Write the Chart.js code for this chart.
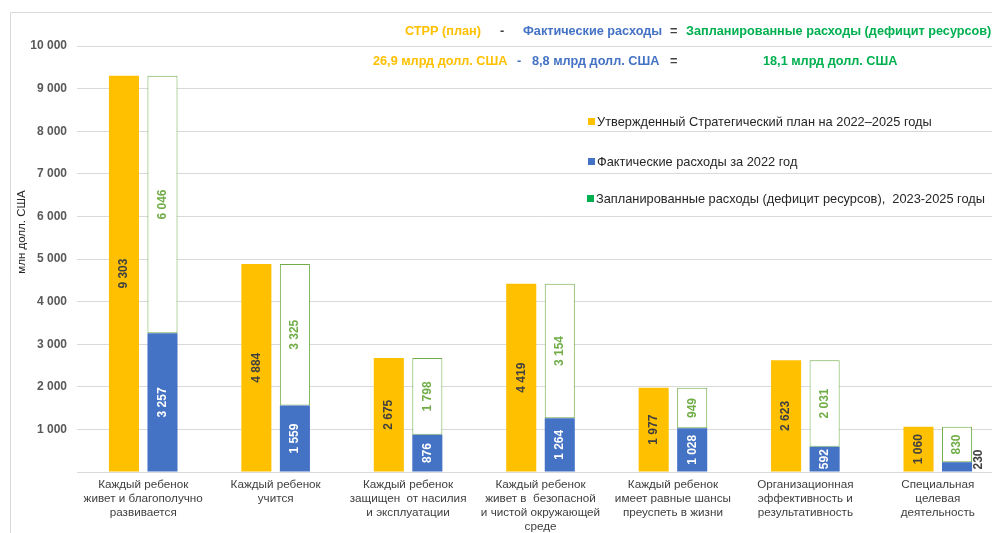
<!DOCTYPE html>
<html>
<head>
<meta charset="utf-8">
<script src="https://cdn.jsdelivr.net/npm/chart.js@4/dist/chart.umd.min.js"></script>
<style>
  html, body { margin: 0; padding: 0; background: #fff; overflow: hidden; }
  #wrap { position: relative; width: 1012px; height: 533px; }
</style>
</head>
<body>
<div id="wrap"><canvas id="chart"></canvas></div>
<script>
// данные диаграммы
const categories = [
  ['Каждый ребенок', 'живет и благополучно', 'развивается'],
  ['Каждый ребенок', 'учится'],
  ['Каждый ребенок', 'защищен  от насилия', 'и эксплуатации'],
  ['Каждый ребенок', 'живет в  безопасной', 'и чистой окружающей', 'среде'],
  ['Каждый ребенок', 'имеет равные шансы', 'преуспеть в жизни'],
  ['Организационная', 'эффективность и', 'результативность'],
  ['Специальная', 'целевая', 'деятельность']
];
const planValues = [9303, 4884, 2675, 4419, 1977, 2623, 1060];
const actualValues = [3257, 1559, 876, 1264, 1028, 592, 230];
const deficitValues = [6046, 3325, 1798, 3154, 949, 2031, 830];

const seriesNames = [
  'Утвержденный Стратегический план на 2022–2025 годы',
  'Фактические расходы за 2022 год',
  'Запланированные расходы (дефицит ресурсов),  2023-2025 годы'
];
const axisTitle = 'млн долл. США';

const ORANGE = '#FFC000';
const BLUE = '#4472C4';
const GREEN = '#70AD47';
const GREEN_TXT = '#00B050';
const FONT = '"Liberation Sans", Arial, sans-serif';

// формат чисел: 9303 -> "9 303"
function fmt(v) {
  return String(v).replace(/\B(?=(\d{3})+(?!\d))/g, ' ');
}

// рамка, заголовок сверху, легенда и подпись оси
const decorPlugin = {
  id: 'decor',
  beforeDraw(chart) {
    const ctx = chart.ctx;
    ctx.save();
    ctx.strokeStyle = '#D9D9D9';
    ctx.lineWidth = 1;
    ctx.beginPath();
    ctx.moveTo(10.5, 533);
    ctx.lineTo(10.5, 12.5);
    ctx.lineTo(1012, 12.5);
    ctx.stroke();
    ctx.restore();
  },
  afterDraw(chart) {
    const ctx = chart.ctx;
    ctx.save();
    ctx.textBaseline = 'middle';
    ctx.textAlign = 'left';

    // верхняя строка формулы
    ctx.font = 'bold 12.7px ' + FONT;
    const line1 = [
      [405, 'СТРР (план)', ORANGE],
      [500, '-', '#404040'],
      [523, 'Фактические расходы', BLUE],
      [670, '=', '#404040'],
      [686, 'Запланированные расходы (дефицит ресурсов)', GREEN_TXT]
    ];
    line1.forEach(([x, t, c]) => { ctx.fillStyle = c; ctx.fillText(t, x, 31); });
    const line2 = [
      [373, '26,9 млрд долл. США', ORANGE],
      [517, '-', BLUE],
      [532, '8,8 млрд долл. США', BLUE],
      [670, '=', '#404040'],
      [763, '18,1 млрд долл. США', GREEN_TXT]
    ];
    line2.forEach(([x, t, c]) => { ctx.fillStyle = c; ctx.fillText(t, x, 61); });

    // легенда
    ctx.font = '12.8px ' + FONT;
    const legend = [
      [588, 121, ORANGE, seriesNames[0]],
      [588, 161, BLUE, seriesNames[1]],
      [587, 198, GREEN_TXT, seriesNames[2]]
    ];
    legend.forEach(([x, y, c, t]) => {
      ctx.fillStyle = c;
      ctx.fillRect(x, y - 3, 7, 7);
      ctx.fillStyle = '#262626';
      ctx.fillText(t, x + 9, y + 1);
    });

    // подпись оси Y
    ctx.translate(22, 232);
    ctx.rotate(-Math.PI / 2);
    ctx.textAlign = 'center';
    ctx.font = '11.5px ' + FONT;
    ctx.fillStyle = '#262626';
    ctx.fillText(axisTitle, 0, 0);
    ctx.restore();
  }
};

// подписи значений внутри столбцов (повернутые)
const valueLabels = {
  id: 'valueLabels',
  afterDatasetsDraw(chart) {
    const ctx = chart.ctx;
    const colors = ['#404040', '#FFFFFF', GREEN];
    ctx.save();
    ctx.font = 'bold 12px ' + FONT;
    chart.data.datasets.forEach((ds, i) => {
      const meta = chart.getDatasetMeta(i);
      meta.data.forEach((bar, j) => {
        const txt = fmt(ds.data[j]);
        const h = Math.abs(bar.base - bar.y);
        const w = ctx.measureText(txt).width;
        ctx.save();
        ctx.textBaseline = 'middle';
        if (w + 2 < h) {
          ctx.translate(bar.x, (bar.y + bar.base) / 2);
          ctx.rotate(-Math.PI / 2);
          ctx.textAlign = 'center';
          ctx.fillStyle = colors[i];
          ctx.fillText(txt, 0, 0);
        } else {
          // не помещается — справа от столбца
          ctx.translate(bar.x + bar.width / 2 + 7, bar.base - 2);
          ctx.rotate(-Math.PI / 2);
          ctx.textAlign = 'left';
          ctx.fillStyle = '#404040';
          ctx.fillText(txt, 0, 0);
        }
        ctx.restore();
      });
    });
    ctx.restore();
  }
};

new Chart(document.getElementById('chart'), {
  type: 'bar',
  data: {
    labels: categories,
    datasets: [
      { label: seriesNames[0], data: planValues, backgroundColor: ORANGE, stack: 'plan',
        categoryPercentage: 0.582, barPercentage: 0.78 },
      { label: seriesNames[1], data: actualValues, backgroundColor: BLUE, stack: 'fact',
        categoryPercentage: 0.582, barPercentage: 0.78 },
      { label: seriesNames[2], data: deficitValues, backgroundColor: '#FFFFFF', borderColor: GREEN,
        borderWidth: 1, borderSkipped: false, stack: 'fact',
        categoryPercentage: 0.582, barPercentage: 0.78 }
    ]
  },
  options: {
    responsive: true,
    maintainAspectRatio: false,
    animation: false,
    layout: { padding: { top: 46, right: 8, left: 0, bottom: 0 } },
    plugins: {
      legend: { display: false },
      tooltip: { enabled: false },
      title: { display: false }
    },
    scales: {
      x: {
        stacked: true,
        grid: { display: false, drawTicks: false },
        border: { color: '#D9D9D9' },
        ticks: {
          color: '#404040',
          font: { family: FONT, size: 11.7 },
          padding: 6,
          maxRotation: 0,
          autoSkip: false
        },
        afterFit(scale) { scale.height = 61; }
      },
      y: {
        stacked: true,
        min: 0,
        max: 10000,
        grid: { color: '#D9D9D9', drawTicks: false },
        border: { display: false },
        ticks: {
          stepSize: 1000,
          padding: 10,
          color: '#595959',
          font: { family: FONT, size: 12, weight: 'bold' },
          callback: v => (v === 0 ? '' : fmt(v))
        },
        afterFit(scale) { scale.width = 77; }
      }
    }
  },
  plugins: [decorPlugin, valueLabels]
});
</script>
</body>
</html>
